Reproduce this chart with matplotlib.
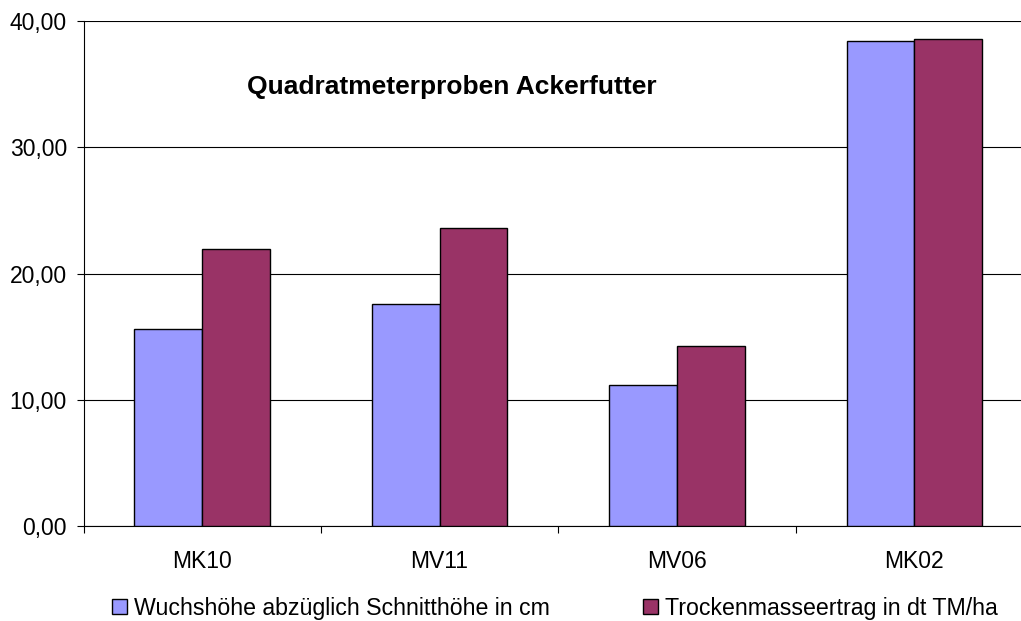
import matplotlib
matplotlib.use("Agg")
import matplotlib.pyplot as plt
import numpy as np
from matplotlib.ticker import FuncFormatter, FixedLocator

plt.rcParams['font.family'] = ['Liberation Sans', 'DejaVu Sans']

# Daten
kategorien = ["MK10", "MV11", "MV06", "MK02"]
wuchshoehe = [15.65, 17.6, 11.2, 38.4]
trockenmasse = [21.95, 23.6, 14.3, 38.55]
serien_namen = ["Wuchshöhe abzüglich Schnitthöhe in cm",
                "Trockenmasseertrag in dt TM/ha"]
titel = "Quadratmeterproben Ackerfutter"

fig = plt.figure(figsize=(10.21, 6.21), dpi=100)
# Achse reicht rechts etwas über das Bild hinaus (wie im Original)
ax = fig.add_axes([0.0818, 0.1525, 0.930, 0.8137])

x = np.arange(len(kategorien))
w = 0.2857
ax.bar(x - w / 2, wuchshoehe, width=w, color="#9999FF", edgecolor="black",
       linewidth=1, label=serien_namen[0], zorder=3)
ax.bar(x + w / 2, trockenmasse, width=w, color="#993366", edgecolor="black",
       linewidth=1, label=serien_namen[1], zorder=3)

ax.set_xlim(-0.5, 3.5)
ax.set_ylim(0, 40)
ax.set_yticks([0, 10, 20, 30, 40])
ax.yaxis.set_major_formatter(FuncFormatter(lambda v, p: f"{v:.2f}".replace(".", ",")))
ax.grid(axis="y", color="black", linewidth=0.8, zorder=0)

ax.set_xticks(x)
ax.set_xticklabels(kategorien)
ax.xaxis.set_minor_locator(FixedLocator([-0.5, 0.5, 1.5, 2.5]))
ax.tick_params(axis="x", which="major", length=0, pad=17, labelsize=16.5)
ax.tick_params(axis="x", which="minor", length=5, width=0.8, direction="out")
ax.tick_params(axis="y", length=5, width=0.8, pad=7, labelsize=16.5)

for s in ["top", "right"]:
    ax.spines[s].set_visible(False)
ax.spines["left"].set_linewidth(0.8)
ax.spines["bottom"].set_linewidth(0.8)

fig.text(452 / 1021, 1 - 87 / 621, titel, ha="center", va="center",
         fontsize=19, fontweight="bold")

fig.legend(loc="center", bbox_to_anchor=(555 / 1021, 1 - 608 / 621), ncol=2,
           frameon=False, fontsize=16.7, handlelength=0.65, handleheight=0.65,
           handletextpad=0.3, columnspacing=4.0, borderpad=0)

fig.savefig("out.png", dpi=100)
